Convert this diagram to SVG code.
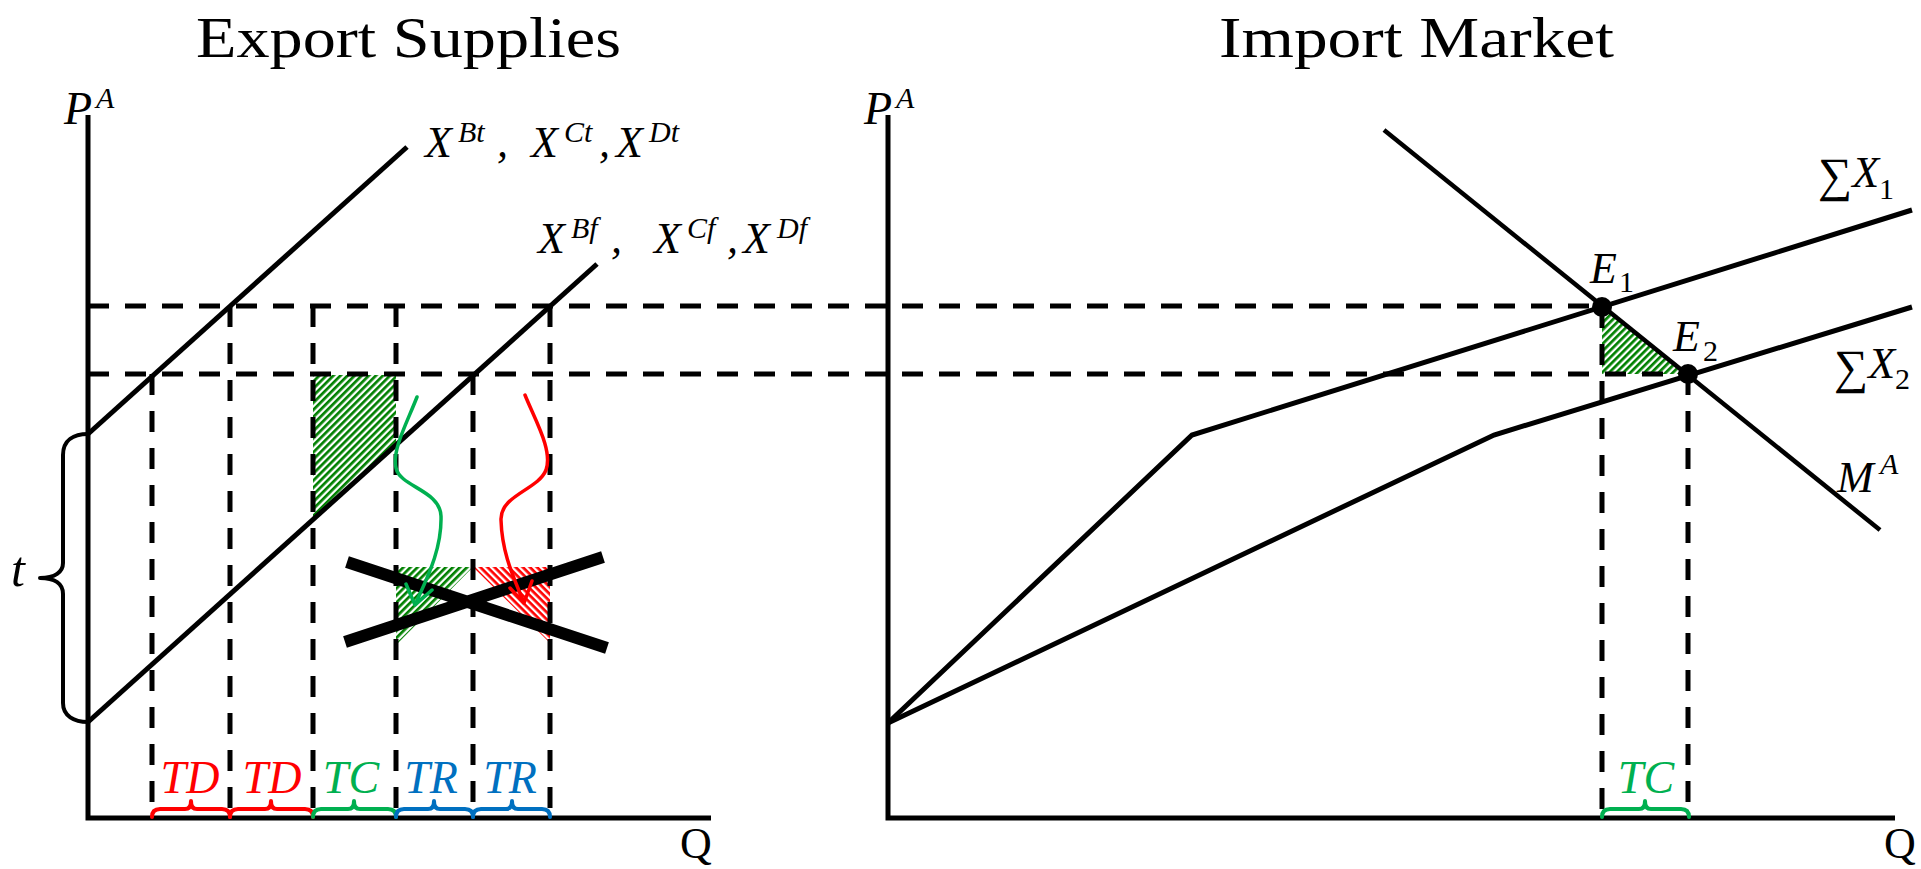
<svg xmlns="http://www.w3.org/2000/svg" width="1921" height="869" viewBox="0 0 1921 869">
<style>
.ln{fill:none;stroke:#000;stroke-width:5;stroke-linejoin:miter}
.ds{fill:none;stroke:#000;stroke-width:5;stroke-dasharray:21 16}
.br{fill:none;stroke-width:4;stroke-linecap:round;stroke-linejoin:round}
.ttl{font-family:"Liberation Serif",serif;font-size:58px;fill:#000}
.m{font-family:"Liberation Serif",serif;font-style:italic;font-size:44px;fill:#000}
.s{font-family:"Liberation Serif",serif;font-style:italic;font-size:30px;fill:#000}
.d{font-family:"Liberation Serif",serif;font-size:30px;fill:#000}
.u{font-family:"Liberation Serif",serif;font-size:44px;fill:#000}
.sg{font-family:"Liberation Serif",serif;font-size:48px;fill:#000}
.lb{font-family:"Liberation Serif",serif;font-style:italic;font-size:46px;text-anchor:middle}
.arr{fill:none;stroke-width:3.5;stroke-linecap:round;stroke-linejoin:round}
</style>
<defs>
<pattern id="hg" width="5" height="5" patternUnits="userSpaceOnUse" patternTransform="rotate(-45)">
<rect width="5" height="5" fill="#fff"/><rect width="5" height="2.7" fill="#008000"/>
</pattern>
<pattern id="hr" width="5" height="5" patternUnits="userSpaceOnUse" patternTransform="rotate(45)">
<rect width="5" height="5" fill="#fff"/><rect width="5" height="2.7" fill="#ff0000"/>
</pattern>
</defs>
<rect width="1921" height="869" fill="#fff"/>

<g id="titles">
<text class="ttl" x="196" y="57" textLength="425" lengthAdjust="spacingAndGlyphs">Export Supplies</text>
<text class="ttl" x="1219" y="57" textLength="395" lengthAdjust="spacingAndGlyphs">Import Market</text>
</g>

<g id="hatches">
<path d="M313,375 H396 V445 L313,519 Z" fill="url(#hg)"/>
<path d="M396,567 H473 L396,645 Z" fill="url(#hg)"/>
<path d="M473,567 H550 V643 Z" fill="url(#hr)"/>
<path d="M1602,307 V374 H1688 Z" fill="url(#hg)"/>
</g>

<g id="dashed">
<path class="ds" d="M88,306 H1602"/>
<path class="ds" d="M88,374 H1688"/>
<path class="ds" d="M152,374 V818"/>
<path class="ds" d="M230,306 V818"/>
<path class="ds" d="M313,306 V818"/>
<path class="ds" d="M396,306 V818"/>
<path class="ds" d="M473,374 V818"/>
<path class="ds" d="M550,306 V818"/>
<path class="ds" d="M1602,307 V818"/>
<path class="ds" d="M1688,374 V818"/>
</g>

<g id="left-axes">
<path class="ln" d="M88,115 V818 H711"/>
<text class="m" x="64" y="124" style="font-size:46px">P</text><text class="s" x="96" y="108">A</text>
<text class="u" x="680" y="858">Q</text>
</g>

<g id="supply-t">
<path class="ln" d="M88,434 L407,147"/>
<text class="m" x="425" y="157">X</text><text class="s" x="458" y="142">Bt</text><text class="m" x="497" y="157">,</text>
<text class="m" x="531" y="157">X</text><text class="s" x="564" y="142">Ct</text><text class="m" x="599" y="157">,</text>
<text class="m" x="616" y="157">X</text><text class="s" x="649" y="142">Dt</text>
</g>

<g id="supply-f">
<path class="ln" d="M88,722 L597,264"/>
<text class="m" x="538" y="253">X</text><text class="s" x="571" y="238">Bf</text><text class="m" x="611" y="253">,</text>
<text class="m" x="654" y="253">X</text><text class="s" x="687" y="238">Cf</text><text class="m" x="727" y="253">,</text>
<text class="m" x="743" y="253">X</text><text class="s" x="777" y="238">Df</text>
</g>

<g id="t-brace">
<path class="br" stroke="#000" d="M88,434 C74,434 63,440 63,455 L63,563 C63,572 55,578 40,578 C55,578 63,584 63,594 L63,703 C63,716 74,722 88,722"/>
<text class="m" x="11" y="586" style="font-size:50px">t</text>
</g>

<g id="cross">
<path d="M347,562 L607,648 M345,642 L603,557" stroke="#000" stroke-width="12" fill="none"/>
</g>

<g id="arrows">
<path class="arr" stroke="#00b050" d="M417,397 C406,425 392,450 396,468 C400,487 440,490 441,516 C442,550 426,580 415,605 M406,584 L415,605 L432,590"/>
<path class="arr" stroke="#ff0000" d="M525,395 C535,420 553,450 546,470 C538,490 500,495 501,520 C502,555 515,580 524,603 M510,588 L524,603 L532,581"/>
</g>

<g id="left-braces">
<path class="br" stroke="#ff0000" d="M152,817 Q152,809 160,809 L185,809 Q191,809 191,801 Q191,809 197,809 L222,809 Q230,809 230,817"/>
<path class="br" stroke="#ff0000" d="M230,817 Q230,809 238,809 L265,809 Q271,809 271,801 Q271,809 277,809 L305,809 Q313,809 313,817"/>
<path class="br" stroke="#00b050" d="M313,817 Q313,809 321,809 L348,809 Q354,809 354,801 Q354,809 360,809 L388,809 Q396,809 396,817"/>
<path class="br" stroke="#0070c0" d="M396,817 Q396,809 404,809 L428,809 Q434,809 434,801 Q434,809 440,809 L465,809 Q473,809 473,817"/>
<path class="br" stroke="#0070c0" d="M473,817 Q473,809 481,809 L506,809 Q512,809 512,801 Q512,809 518,809 L542,809 Q550,809 550,817"/>
<text class="lb" x="190" y="793" fill="#ff0000">TD</text>
<text class="lb" x="272" y="793" fill="#ff0000">TD</text>
<text class="lb" x="351" y="793" fill="#00b050">TC</text>
<text class="lb" x="431" y="793" fill="#0070c0">TR</text>
<text class="lb" x="510" y="793" fill="#0070c0">TR</text>
</g>

<g id="right-axes">
<path class="ln" d="M888,115 V818 H1895"/>
<text class="m" x="864" y="124" style="font-size:46px">P</text><text class="s" x="896" y="108">A</text>
<text class="u" x="1884" y="858">Q</text>
</g>

<g id="sum-x1">
<path class="ln" d="M888,723 L1192,435 L1912,210"/>
<text x="1818" y="191"><tspan class="sg">∑</tspan><tspan class="m" dy="-4">X</tspan><tspan class="d" dy="12">1</tspan></text>
</g>

<g id="sum-x2">
<path class="ln" d="M888,723 L1494,435 L1912,307"/>
<text x="1834" y="383"><tspan class="sg">∑</tspan><tspan class="m" dy="-5">X</tspan><tspan class="d" dy="11">2</tspan></text>
</g>

<g id="import-demand">
<path class="ln" style="stroke-width:4.5" d="M1384,130 L1880,530"/>
<text class="m" x="1837" y="492">M</text><text class="s" x="1880" y="474">A</text>
</g>

<g id="equilibria">
<circle cx="1602" cy="307" r="10"/>
<circle cx="1688" cy="374" r="10"/>
<text class="m" x="1590" y="283">E</text><text class="d" x="1619" y="292">1</text>
<text class="m" x="1673" y="351">E</text><text class="d" x="1703" y="361">2</text>
</g>

<g id="right-brace">
<path class="br" stroke="#00b050" d="M1602,817 Q1602,809 1610,809 L1639,809 Q1645,809 1645,801 Q1645,809 1651,809 L1681,809 Q1689,809 1689,817"/>
<text class="lb" x="1646" y="793" fill="#00b050">TC</text>
</g>
</svg>
